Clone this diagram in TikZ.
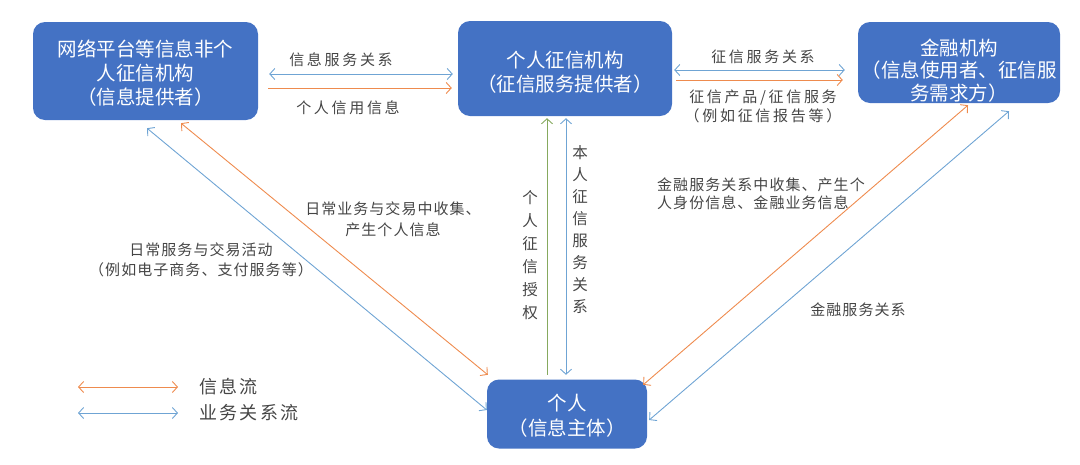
\documentclass[tikz,border=0pt]{standalone}
\usepackage{fontspec}
\setmainfont{Noto Sans CJK SC}
\newfontfamily\hlabelfont[LetterSpace=18]{Noto Sans CJK SC}
\newfontfamily\dlabelfont[LetterSpace=7]{Noto Sans CJK SC}
\newfontfamily\keyfont[LetterSpace=13]{Noto Sans CJK SC}
\usepackage{xcolor}
\usepackage{tikz}
\usetikzlibrary{calc}
\usetikzlibrary{arrows.meta}
\definecolor{boxblue}{HTML}{4472C4}
\definecolor{flowblue}{HTML}{6FA4D4}
\definecolor{floworange}{HTML}{EE8B4E}
\definecolor{flowgreen}{HTML}{86A95E}
\definecolor{labelgray}{HTML}{454545}

\begin{document}
\begin{tikzpicture}[x=1pt,y=-1pt,>={Straight Barb[length=5pt,width=11pt]}]

    \tikzstyle{party}=[rectangle,rounded corners=12pt,fill=boxblue,inner sep=0pt]
    \tikzstyle{party text}=[text=white,align=center,inner sep=1pt,font=\fontsize{19.5}{24}\selectfont]
    \tikzstyle{business flow}=[<->,line width=0.9pt,color=flowblue]
    \tikzstyle{info flow}=[line width=0.9pt,color=floworange]
    \tikzstyle{consent flow}=[->,line width=0.9pt,color=flowgreen]
    \tikzstyle{flow text}=[text=labelgray,inner sep=1pt,font=\hlabelfont\fontsize{15}{19}\selectfont,align=center]
    \tikzstyle{slant text}=[text=labelgray,inner sep=1pt,font=\dlabelfont\fontsize{15}{21}\selectfont,align=center]
    \tikzstyle{upright text}=[text=labelgray,inner sep=1pt,font=\fontsize{15.5}{23}\selectfont,align=center]
    \tikzstyle{key text}=[text=labelgray,anchor=west,inner sep=0pt,font=\keyfont\fontsize{18}{20}\selectfont]

    \useasboundingbox (0,0) rectangle (1080,464);

    % Parties
    \node[style=party,minimum width=225pt,minimum height=98pt] (net) at (145.5,71) {};
    \node[style=party text] (net text) at ($(net)+(0,2)$) {网络平台等信息非个\\人征信机构\\（信息提供者）};
    \node[style=party,minimum width=214pt,minimum height=95pt] (pcr) at (565,68.5) {};
    \node[style=party text] (pcr text) at ($(pcr)+(0,3.5)$) {个人征信机构\\（征信服务提供者）};
    \node[style=party,minimum width=202pt,minimum height=81pt] (fin) at (959,62.5) {};
    \node[style=party text,font=\fontsize{19.5}{22.5}\selectfont] (fin text) at ($(fin)+(0,8)$) {金融机构\\（信息使用者、征信服\\务需求方）};
    \node[style=party,minimum width=160pt,minimum height=69pt] (person) at (567,414) {};
    \node[style=party text,font=\fontsize{19.5}{25}\selectfont] (person text) at ($(person)+(0,1.5)$) {个人\\（信息主体）};

    % Draw flows along the top
    \draw[style=business flow] ($(net.east)+(11,3)$) -- ($(pcr.west)+(-5,5.5)$);
    \draw[style=info flow,->] ($(net.east)+(10,17)$) -- ($(pcr.west)+(-6,19.5)$);
    \draw[style=business flow] ($(pcr.east)+(2,1.5)$) -- ($(fin.west)+(-13,7.5)$);
    \draw[style=info flow,->] ($(pcr.east)+(4,11.5)$) -- ($(fin.west)+(-15,17.5)$);
    \node[style=flow text] (serv rel) at (341,60) {信息服务关系};
    \node[style=flow text] (credit info) at (348,108) {个人信用信息};
    \node[style=flow text] (pcr rel) at (763,57) {征信服务关系};
    \node[style=flow text] (pcr product) at (763,106.5) {征信产品/征信服务\\（例如征信报告等）};

    % Draw flows down to the person
    \draw[style=business flow] ($(net.south)+(1.5,8)$) -- ($(person.west)+(0,-4)$);
    \draw[style=info flow,<->] ($(net.south)+(35.5,3)$) -- ($(person.north west)+(1,-4.5)$);
    \draw[style=info flow,<->] ($(fin.south)+(9,2)$) -- ($(person.north east)+(-4,5.5)$);
    \draw[style=business flow] ($(fin.south)+(50,8)$) -- ($(person.east)+(2,6)$);
    \draw[style=consent flow] ($(person.north)+(-20,-4.5)$) -- ($(pcr.south)+(-18,2)$);
    \draw[style=business flow] ($(person.north)+(-1,-4.5)$) -- ($(pcr.south)+(1,2)$);
    \node[style=slant text] (net collect) at (393,219) {日常业务与交易中收集、\\产生个人信息};
    \node[style=slant text,font=\dlabelfont\fontsize{15}{20}\selectfont] (daily serv) at (201,260) {日常服务与交易活动\\（例如电子商务、支付服务等）};
    \node[style=slant text,align=left,anchor=west,font=\dlabelfont\fontsize{15}{18.5}\selectfont] (fin collect) at (656,194) {金融服务关系中收集、产生个\\人身份信息、金融业务信息};
    \node[style=slant text] (fin rel) at (858,310) {金融服务关系};
    \node[style=upright text] (consent) at (530,255) {个\\人\\征\\信\\授\\权};
    \node[style=upright text,font=\fontsize{15.5}{22}\selectfont] (own rel) at (580,229.5) {本\\人\\征\\信\\服\\务\\关\\系};

    % Key
    \coordinate (info key a) at (78,387);
    \coordinate (info key b) at (178,387);
    \coordinate (serv key a) at (78,413);
    \coordinate (serv key b) at (178,413);
    \draw[style=info flow,<->] (info key a) -- (info key b);
    \draw[style=business flow] (serv key a) -- (serv key b);
    \node[style=key text] (info key) at (199,387) {信息流};
    \node[style=key text] (serv key) at (199,413) {业务关系流};

\end{tikzpicture}
\end{document}
